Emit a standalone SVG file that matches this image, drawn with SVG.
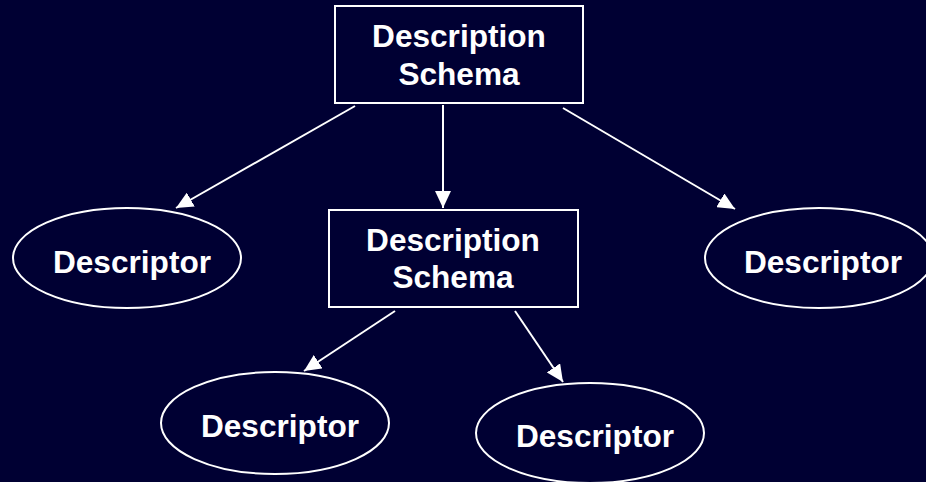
<svg xmlns="http://www.w3.org/2000/svg" width="926" height="482" viewBox="0 0 926 482">
<style>
.box{fill:none;stroke:#ffffff;stroke-width:2}
.ell{fill:none;stroke:#ffffff;stroke-width:2}
.lbl{font-family:"Liberation Sans",Arial,sans-serif;font-weight:bold;font-size:31.6px;fill:#ffffff;text-anchor:middle}
.con{stroke:#ffffff;stroke-width:2;fill:none;marker-end:url(#ah)}
</style>
<defs>
<marker id="ah" markerUnits="userSpaceOnUse" markerWidth="18" markerHeight="16" refX="17" refY="8" orient="auto">
<path d="M0,0 L17,8 L0,16 Z" fill="#ffffff"/>
</marker>
</defs>
<rect width="926" height="482" fill="#000033"/>
<g id="connectors">
<line class="con" x1="355" y1="106" x2="176" y2="208"/>
<line class="con" x1="443" y1="105" x2="443" y2="208"/>
<line class="con" x1="563" y1="108" x2="735" y2="209"/>
<line class="con" x1="395" y1="311" x2="304" y2="371"/>
<line class="con" x1="515" y1="311" x2="563" y2="382"/>
</g>
<g id="ds-top">
<rect class="box" x="335" y="6" width="248" height="97"/>
<text class="lbl" x="459" y="47">Description</text>
<text class="lbl" x="459" y="85">Schema</text>
</g>
<g id="ds-mid">
<rect class="box" x="329" y="210" width="249" height="97"/>
<text class="lbl" x="453" y="251">Description</text>
<text class="lbl" x="453" y="288">Schema</text>
</g>
<g id="desc-left">
<ellipse class="ell" cx="127" cy="258" rx="114" ry="50"/>
<text class="lbl" x="132" y="273">Descriptor</text>
</g>
<g id="desc-right">
<ellipse class="ell" cx="819" cy="258" rx="114" ry="50"/>
<text class="lbl" x="823" y="273">Descriptor</text>
</g>
<g id="desc-bl">
<ellipse class="ell" cx="275" cy="423" rx="114" ry="51"/>
<text class="lbl" x="280" y="437">Descriptor</text>
</g>
<g id="desc-br">
<ellipse class="ell" cx="590" cy="433" rx="114" ry="50"/>
<text class="lbl" x="595" y="447">Descriptor</text>
</g>
</svg>
